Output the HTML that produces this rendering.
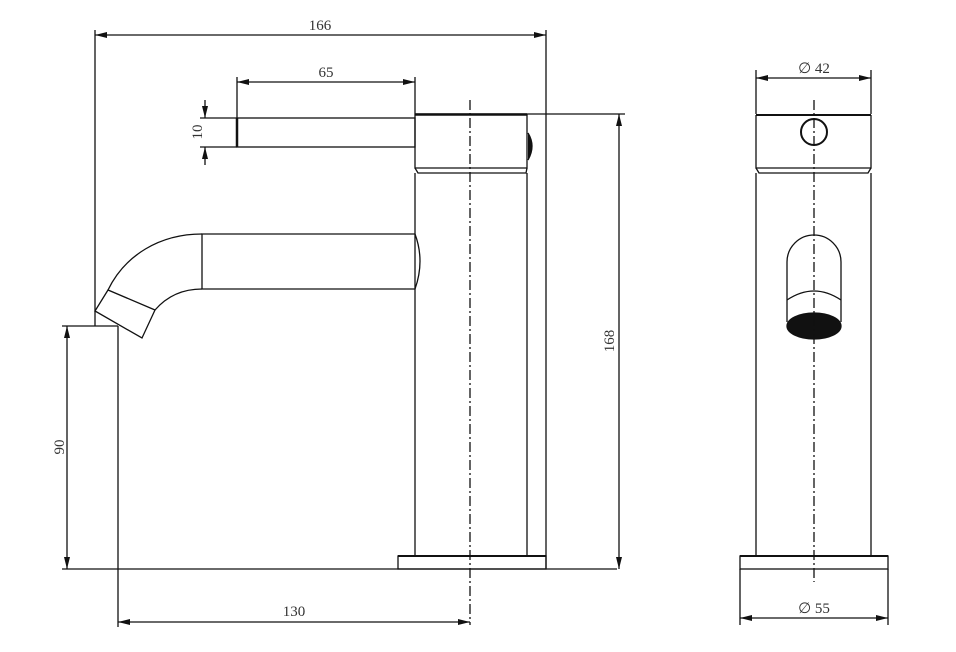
<!DOCTYPE html>
<html><head><style>body{margin:0;background:#fff}svg{display:block}text{font-family:"Liberation Serif",serif;font-size:15px;fill:#333}</style></head><body>
<svg width="956" height="652" viewBox="0 0 956 652" xmlns="http://www.w3.org/2000/svg">
<defs>
<marker id="a" viewBox="0 0 12 6" refX="12" refY="3" markerWidth="12" markerHeight="6" markerUnits="userSpaceOnUse" orient="auto-start-reverse"><path d="M0,0L12,3L0,6z" fill="#111"/></marker>
</defs>
<g stroke="#111" stroke-width="1.3" fill="none">
<!-- 166 -->
<line x1="95" y1="30" x2="95" y2="326"/><line x1="546" y1="30" x2="546" y2="568"/>
<line x1="95" y1="35" x2="546" y2="35" marker-start="url(#a)" marker-end="url(#a)"/>
<!-- 65 -->
<line x1="237" y1="77" x2="237" y2="118"/><line x1="415" y1="77" x2="415" y2="114"/>
<line x1="237" y1="82" x2="415" y2="82" marker-start="url(#a)" marker-end="url(#a)"/>
<!-- 10 -->
<line x1="200" y1="118" x2="237" y2="118"/><line x1="200" y1="147" x2="237" y2="147"/>
<line x1="205" y1="100" x2="205" y2="118" marker-end="url(#a)"/><line x1="205" y1="165" x2="205" y2="147" marker-end="url(#a)"/>
<!-- lever -->
<rect x="237" y="118" width="178" height="29"/><line x1="237" y1="118" x2="237" y2="147" stroke-width="2.5"/>
<!-- head -->
<line x1="415" y1="114" x2="625" y2="114"/><line x1="415" y1="114.5" x2="527" y2="114.5" stroke-width="2.5"/>
<path d="M415,114V168H527V114"/>
<path d="M528,133Q536,146 528,160" fill="#111"/>
<path d="M415,168L418,173H526L527,168"/>
<path d="M415,173V556M527,173V556"/>
<rect x="398" y="556" width="148" height="13"/><line x1="398" y1="556" x2="546" y2="556" stroke-width="2"/>
<line x1="470" y1="100" x2="470" y2="625" stroke-dasharray="10,3,2,3"/>
<!-- spout -->
<path d="M415,234H202V289H415"/>
<path d="M415,234Q425,261 415,289"/>
<path d="M202,234C160,234 125,255 108,290"/>
<path d="M202,289C185,289 168,295 155,310"/>
<path d="M108,290L95,311L142,338L155,310Z"/>
<!-- 90 -->
<line x1="62" y1="326" x2="118" y2="326"/><line x1="62" y1="569" x2="617" y2="569"/>
<line x1="67" y1="326" x2="67" y2="569" marker-start="url(#a)" marker-end="url(#a)"/>
<line x1="118" y1="326" x2="118" y2="627"/>
<line x1="118" y1="622" x2="470" y2="622" marker-start="url(#a)" marker-end="url(#a)"/>
<!-- 168 -->
<line x1="619" y1="114" x2="619" y2="569" marker-start="url(#a)" marker-end="url(#a)"/>
<!-- right view -->
<line x1="756" y1="70" x2="756" y2="114"/><line x1="871" y1="70" x2="871" y2="114"/>
<line x1="756" y1="78" x2="871" y2="78" marker-start="url(#a)" marker-end="url(#a)"/>
<line x1="756" y1="115" x2="871" y2="115" stroke-width="2"/>
<path d="M756,115V168H871V115"/>
<circle cx="814" cy="132" r="13" stroke-width="2"/>
<path d="M756,168L759,173H868L871,168"/>
<path d="M756,173V556M871,173V556"/>
<path d="M787,322V262A27,27 0 0 1 841,262V322"/>
<path d="M787,300Q814,282 841,300"/>
<ellipse cx="814" cy="326" rx="27" ry="13" fill="#111"/>
<rect x="740" y="556" width="148" height="13"/><line x1="740" y1="556" x2="888" y2="556" stroke-width="2"/>
<line x1="814" y1="100" x2="814" y2="582" stroke-dasharray="10,3,2,3"/>
<line x1="740" y1="569" x2="740" y2="625"/><line x1="888" y1="569" x2="888" y2="625"/>
<line x1="740" y1="618" x2="888" y2="618" marker-start="url(#a)" marker-end="url(#a)"/>
</g>
<text x="320" y="30" text-anchor="middle">166</text>
<text x="326" y="77" text-anchor="middle">65</text>
<text transform="translate(202,132) rotate(-90)" text-anchor="middle">10</text>
<text transform="translate(64,447) rotate(-90)" text-anchor="middle">90</text>
<text transform="translate(614,341) rotate(-90)" text-anchor="middle">168</text>
<text x="294" y="616" text-anchor="middle">130</text>
<text x="814" y="73" text-anchor="middle">∅ 42</text>
<text x="814" y="613" text-anchor="middle">∅ 55</text>
</svg>
</body></html>
